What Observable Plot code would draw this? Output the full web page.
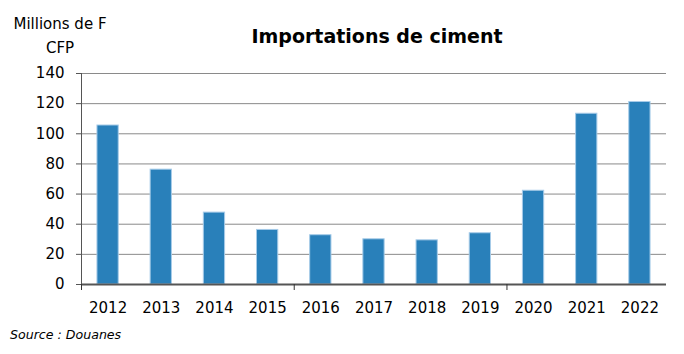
<!DOCTYPE html>
<html>
<head>
<meta charset="utf-8">
<script src="https://cdn.jsdelivr.net/npm/d3@7"></script>
<script src="https://cdn.jsdelivr.net/npm/@observablehq/plot@0.6"></script>
<style>
  html, body { margin: 0; padding: 0; background: #fff; }
  #wrap { position: relative; width: 684px; height: 354px; font-family: "DejaVu Sans", sans-serif; color: #000; }
  #wrap svg { position: absolute; left: 0; top: 0; }
  .lbl { position: absolute; white-space: nowrap; }
  #title { left: 227px; width: 300px; top: 27px; text-align: center; font-weight: bold; font-size: 19px; line-height: 19px; }
  #ylab { left: 0px; width: 120px; top: 12px; text-align: center; font-size: 15px; line-height: 24px; }
  #source { left: 10px; top: 328px; font-style: italic; font-size: 12.6px; line-height: 13px; }
</style>
</head>
<body>
<div id="wrap">
  <div id="chart"></div>
  <div class="lbl" id="title">Importations de ciment</div>
  <div class="lbl" id="ylab">Millions de F<br>CFP</div>
  <div class="lbl" id="source">Source : Douanes</div>
</div>
<script>
const years = ["2012", "2013", "2014", "2015", "2016", "2017", "2018", "2019", "2020", "2021", "2022"];
const values = [105.5, 76.2, 47.7, 36.2, 32.7, 30.0, 29.3, 34.0, 62.2, 113.3, 121.1];
const yTicks = [0, 20, 40, 60, 80, 100, 120, 140];
const boundaryTicks = [0, 4, 8];

const data = years.map((y, i) => ({ year: y, i, value: values[i] }));

const chart = Plot.plot({
  width: 684,
  height: 354,
  marginTop: 73,
  marginBottom: 70,
  marginLeft: 81,
  marginRight: 18,
  style: { fontFamily: "DejaVu Sans, sans-serif", fontSize: "15px", color: "#000", background: "transparent" },
  x: { type: "linear", domain: [0, years.length], axis: null },
  y: { domain: [0, 140], axis: null },
  marks: [
    Plot.gridY(yTicks.filter(d => d > 0), { stroke: "#8a8a8a", strokeOpacity: 1, strokeWidth: 1 }),
    Plot.rectY(data, {
      x1: d => d.i + 0.3,
      x2: d => d.i + 0.7,
      y: "value",
      fill: "#2980ba",
      stroke: "#a6cbe8",
      strokeWidth: 1
    }),
    Plot.axisY(yTicks, { tickSize: 5, tickPadding: 12, stroke: "#555", fill: "#000", label: null }),
    Plot.ruleX([0], { stroke: "#555", strokeWidth: 1 }),
    Plot.ruleY([0], { stroke: "#555", strokeWidth: 2 }),
    Plot.axisX(data.map(d => d.i + 0.5), {
      tickSize: 0,
      tickPadding: 18,
      tickFormat: d => years[Math.round(d - 0.5)],
      fill: "#000",
      label: null
    }),
    Plot.axisX(boundaryTicks, { tickSize: 6, tickFormat: () => "", stroke: "#333", label: null })
  ]
});
document.getElementById("chart").appendChild(chart);
</script>
</body>
</html>
